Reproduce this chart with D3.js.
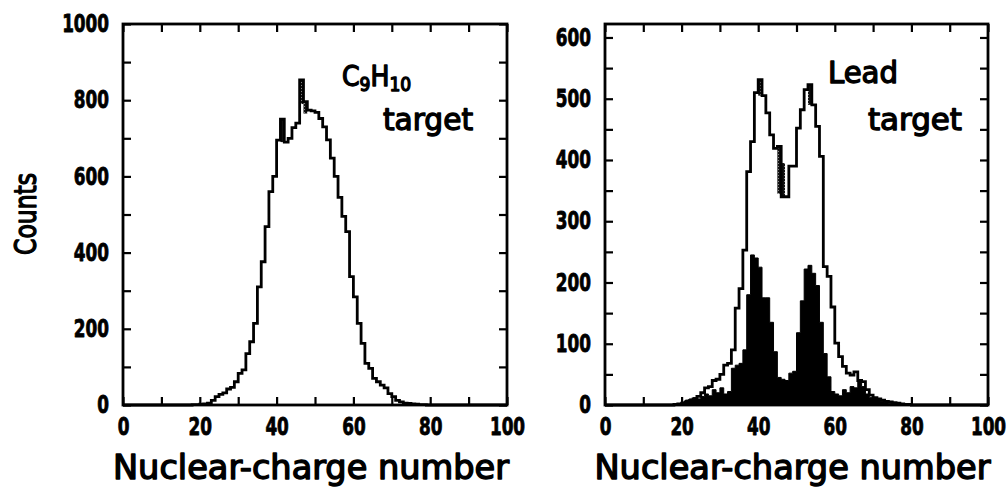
<!DOCTYPE html>
<html lang="en">
<head>
  <meta charset="UTF-8">
  <title>Nuclear-charge spectra</title>
  <style>
    body { margin: 0; background: #fff; }
    svg text { font-family: "DejaVu Sans Condensed", "DejaVu Sans", sans-serif; fill: #000; stroke-linejoin: round; }
  </style>
</head>
<body>
  <svg></svg>
  <script src="https://cdn.jsdelivr.net/npm/d3@7"></script>
  <script>
    var width = 1008
    var height = 488

    // first bin (nuclear-charge number) of every count list, bins are 1 wide
    var binStart = 18

    // C9H10 target
    var countsC9H10 = [1, 1, 2, 3, 5, 12, 22, 28, 32, 42, 46, 61, 83, 92, 135, 166, 214, 310, 376, 468,
      560, 600, 695, 750, 690, 700, 728, 740, 853, 796, 774, 772, 768, 752, 730, 696, 648, 600, 545, 495,
      455, 337, 284, 214, 162, 109, 96, 70, 61, 52, 45, 30, 22, 12, 8, 5, 4, 3, 2, 1, 1, 0]
    // shaded spikes: [bin, low, high]
    var hatchC9H10 = [[41, 690, 750], [46, 790, 853], [47, 765, 796]]

    // lead target, all events
    var countsLead = [1, 2, 3, 5, 7, 10, 14, 20, 28, 30, 40, 42, 50, 65, 68, 90, 158, 190, 253, 381,
      430, 510, 531, 505, 477, 441, 419, 422, 340, 340, 390, 390, 452, 482, 515, 523, 490, 455, 406, 226,
      210, 160, 101, 79, 63, 52, 49, 54, 40, 38, 25, 16, 12, 10, 8, 6, 5, 4, 3, 2, 1, 1]
    // lead target, filled part
    var countsLeadFilled = [0, 2, 5, 8, 10, 12, 10, 14, 18, 15, 25, 20, 28, 18, 22, 60, 65, 68, 90, 180,
      245, 240, 225, 175, 175, 135, 87, 45, 42, 40, 52, 55, 118, 170, 222, 228, 215, 195, 135, 84,
      46, 22, 18, 15, 25, 20, 30, 28, 38, 30, 18, 12, 10, 8, 6, 4, 3, 2, 1, 1, 0, 0]
    var hatchLead = [[40, 505, 531], [45, 345, 422], [46, 340, 395], [53, 490, 523]]

    var xTicks = [0, 10, 20, 30, 40, 50, 60, 70, 80, 90, 100]
    var xLabels = [0, 20, 40, 60, 80, 100]
    var yTicksC9H10 = [0, 100, 200, 300, 400, 500, 600, 700, 800, 900, 1000]
    var yLabelsC9H10 = [0, 200, 400, 600, 800, 1000]
    var yTicksLead = [0, 50, 100, 150, 200, 250, 300, 350, 400, 450, 500, 550, 600]
    var yLabelsLead = [0, 100, 200, 300, 400, 500, 600]

    var svg = d3.select("svg")
      .attr("width", width)
      .attr("height", height)

    var defs = svg.append("defs")
    var pat = defs.append("pattern")
      .attr("id", "hatch")
      .attr("patternUnits", "userSpaceOnUse")
      .attr("width", 3).attr("height", 3)
    pat.append("rect").attr("width", 3).attr("height", 3).attr("fill", "#111")
    pat.append("rect").attr("x", 1).attr("y", 1).attr("width", 1).attr("height", 1).attr("fill", "#888")

    function toBins(counts) {
      var out = [[0, 0]]
      counts.forEach(function (c, i) { out.push([binStart + i, c]) })
      out.push([binStart + counts.length, 0])
      out.push([100, 0])
      return out
    }

    // plotter-like lettering: condensed glyphs, a bit of stroke for weight
    function letter(sel, size, sx) {
      return sel.attr("font-size", size)
        .attr("stroke", "#000").attr("stroke-width", 0.8)
        .attr("transform", function () {
          var t = d3.select(this).attr("transform") || ""
          return t + ` scale(${sx}, 1)`
        })
    }

    var sx = 0.78
    var penText = 1.3

    function panel(opt) {
      var x = d3.scaleLinear().domain([0, 100]).range(opt.xr)
      var y = d3.scaleLinear().domain([0, opt.ymax]).range([405, 24])
      var g = svg.append("g")

      if (opt.filled) {
        var area = d3.area()
          .curve(d3.curveStepAfter)
          .x(d => x(d[0]))
          .y0(y(0))
          .y1(d => y(d[1]))
        g.append("path")
          .datum(toBins(opt.filled))
          .attr("d", area)
          .attr("fill", "#000")
          .attr("stroke", "#000")
          .attr("stroke-width", 1)
      }

      g.selectAll("rect.hatch")
        .data(opt.hatch)
        .join("rect")
        .attr("class", "hatch")
        .attr("x", d => x(d[0]))
        .attr("width", d => x(d[0] + 1) - x(d[0]))
        .attr("y", d => y(d[2]))
        .attr("height", d => y(d[1]) - y(d[2]))
        .attr("fill", "url(#hatch)")

      var line = d3.line()
        .curve(d3.curveStepAfter)
        .x(d => x(d[0]))
        .y(d => y(d[1]))
      g.append("path")
        .datum(toBins(opt.counts))
        .attr("d", line)
        .attr("fill", "none")
        .attr("stroke", "#000")
        .attr("stroke-width", 2.8)

      // frame
      g.append("rect")
        .attr("x", x(0)).attr("y", y(opt.ymax))
        .attr("width", x(100) - x(0)).attr("height", y(0) - y(opt.ymax))
        .attr("fill", "none").attr("stroke", "#000").attr("stroke-width", 2.8)

      var fmtX = d => xLabels.indexOf(d) >= 0 ? d : ""
      var fmtY = d => opt.ylabels.indexOf(d) >= 0 ? d : ""

      var bottom = g.append("g")
        .attr("transform", `translate(0, ${y(0)})`)
        .call(d3.axisBottom(x).tickValues(xTicks).tickSize(-8).tickPadding(13).tickFormat(fmtX))
      var top = g.append("g")
        .attr("transform", `translate(0, ${y(opt.ymax)})`)
        .call(d3.axisTop(x).tickValues(xTicks).tickSize(-8).tickFormat(""))
      var left = g.append("g")
        .attr("transform", `translate(${x(0)}, 0)`)
        .call(d3.axisLeft(y).tickValues(opt.yticks).tickSize(-8).tickPadding(14 / sx).tickFormat(fmtY))
      var right = g.append("g")
        .attr("transform", `translate(${x(100)}, 0)`)
        .call(d3.axisRight(y).tickValues(opt.yticks).tickSize(-8).tickFormat(""))

      ;[bottom, top, left, right].forEach(function (a) {
        a.select(".domain").remove()
        a.selectAll(".tick line").attr("stroke", "#000").attr("stroke-width", 2.2)
        a.selectAll("text").attr("font-family", null).attr("font-weight", "bold")
        letter(a.selectAll("text"), 24, sx)
      })

      g.append("text")
        .attr("x", (x(0) + x(100)) / 2 - 4)
        .attr("y", 479)
        .attr("text-anchor", "middle")
        .attr("font-size", 33)
        .attr("stroke", "#000").attr("stroke-width", penText)
        .attr("textLength", 396)
        .attr("lengthAdjust", "spacingAndGlyphs")
        .text("Nuclear-charge number")
      return g
    }

    var gl = panel({ xr: [123, 507], ymax: 1000, counts: countsC9H10, hatch: hatchC9H10,
      yticks: yTicksC9H10, ylabels: yLabelsC9H10 })
    var gr = panel({ xr: [605, 988], ymax: 622, counts: countsLead, filled: countsLeadFilled, hatch: hatchLead,
      yticks: yTicksLead, ylabels: yLabelsLead })

    // label of the C9H10 panel
    var lab = gl.append("text").attr("x", 342).attr("y", 86).attr("font-size", 28)
      .attr("stroke", "#000").attr("stroke-width", penText)
    lab.append("tspan").text("C")
    lab.append("tspan").attr("font-size", 19).attr("dy", 5).text("9")
    lab.append("tspan").attr("dy", -5).text("H")
    lab.append("tspan").attr("font-size", 19).attr("dy", 5).text("10")
    gl.append("text").attr("x", 383).attr("y", 130).attr("font-size", 31)
      .attr("stroke", "#000").attr("stroke-width", penText)
      .attr("textLength", 90).attr("lengthAdjust", "spacingAndGlyphs").text("target")

    gr.append("text").attr("x", 828).attr("y", 83).attr("font-size", 30)
      .attr("stroke", "#000").attr("stroke-width", penText)
      .attr("textLength", 70).attr("lengthAdjust", "spacingAndGlyphs").text("Lead")
    gr.append("text").attr("x", 868).attr("y", 130).attr("font-size", 31)
      .attr("stroke", "#000").attr("stroke-width", penText)
      .attr("textLength", 94).attr("lengthAdjust", "spacingAndGlyphs").text("target")

    svg.append("text")
      .attr("transform", "translate(36, 214) rotate(-90)")
      .attr("text-anchor", "middle")
      .attr("font-size", 31)
      .attr("stroke", "#000").attr("stroke-width", penText)
      .attr("textLength", 82)
      .attr("lengthAdjust", "spacingAndGlyphs")
      .text("Counts")
  </script>
</body>
</html>
